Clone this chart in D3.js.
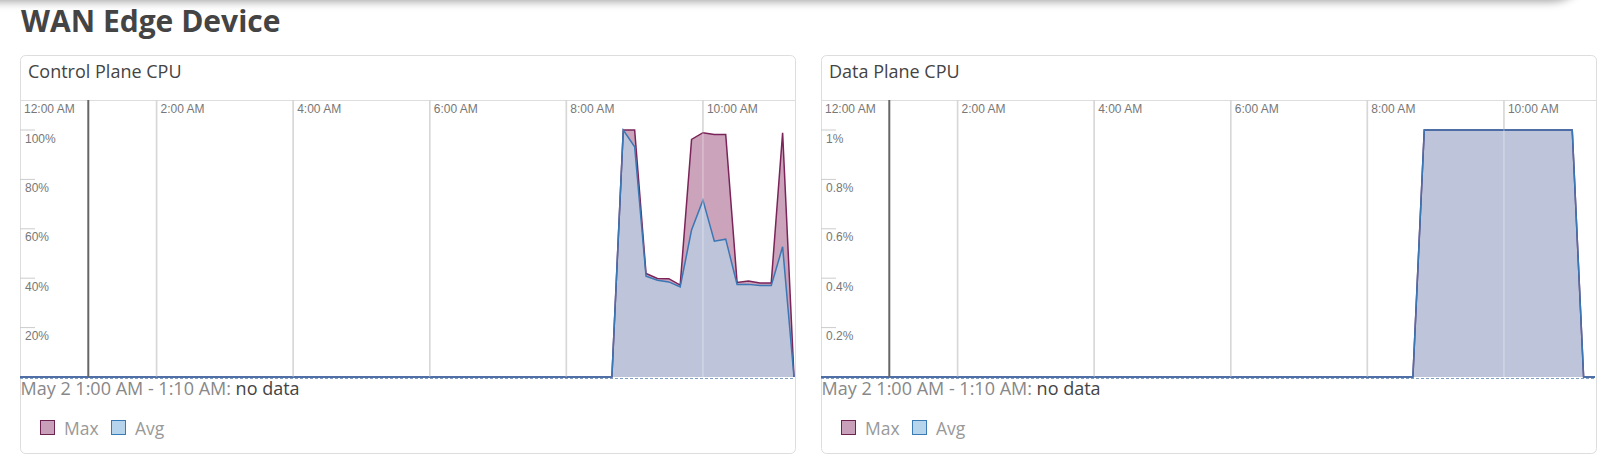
<!DOCTYPE html>
<html>
<head>
<meta charset="utf-8">
<script src="https://cdn.jsdelivr.net/npm/d3@7"></script>
<style>
  body { margin: 0; background: #fff; overflow: hidden; }
  #topbar { position: absolute; left: -20px; top: -40px; width: 1610px; height: 40px;
            background: #fff; box-shadow: 0 2px 9px rgba(0,0,0,0.35); border-radius: 0 0 40px 0; }
  #page { position: absolute; left: 0; top: 0; }
</style>
</head>
<body>
<div id="topbar"></div>
<div id="page"></div>
<script>
// Control Plane CPU (10 minute samples, %)
var cpTimes = ["00:00","08:40","08:50","09:00","09:10","09:20","09:30","09:40","09:50","10:00",
               "10:10","10:20","10:30","10:40","10:50","11:00","11:10","11:20"];
var cpMax = [0, 0, 100, 100, 41.9, 39.9, 39.8, 37.2, 96.2, 98.9, 98.2, 98.2, 38.3, 38.9, 38.1, 38.1, 98.9, 0];
var cpAvg = [0, 0, 100, 93.2, 40.8, 39.2, 38.5, 36.5, 59.5, 71.6, 55.0, 55.8, 37.5, 37.5, 37.0, 37.0, 52.7, 0];
var cpTicks = [20, 40, 60, 80, 100];
var cpTickLabels = ["20%", "40%", "60%", "80%", "100%"];

// Data Plane CPU (%)
var dpTimes = ["00:00","08:40","08:50","11:00","11:10","11:20"];
var dpMax = [0, 0, 1, 1, 0, 0];
var dpAvg = [0, 0, 1, 1, 0, 0];
var dpTicks = [0.2, 0.4, 0.6, 0.8, 1];
var dpTickLabels = ["0.2%", "0.4%", "0.6%", "0.8%", "1%"];

var timeStart = "00:00", timeEnd = "11:20";
var noDataTime = "01:00";
var noDataLabel = "May 2 1:00 AM - 1:10 AM:";
var legendItems = ["Max", "Avg"];

var svgWidth = 1607, svgHeight = 469;
var sansFont = "'Open Sans', sans-serif";
var tickFont = "'Liberation Sans', Arial, sans-serif";

var parseT = d3.timeParse("%Y-%m-%d %H:%M");
function toDate(t) { return parseT("2024-05-02 " + t); }

var svg = d3.select("#page").append("svg")
  .attr("width", svgWidth)
  .attr("height", svgHeight);

svg.append("text")
  .attr("x", 21)
  .attr("y", 32)
  .style("font-family", sansFont)
  .style("font-weight", "700")
  .style("font-size", "30px")
  .style("fill", "#444")
  .text("WAN Edge Device");

var panels = [
  { title: "Control Plane CPU", times: cpTimes, max: cpMax, avg: cpAvg, ticks: cpTicks, labels: cpTickLabels, top: 100, left: 20 },
  { title: "Data Plane CPU", times: dpTimes, max: dpMax, avg: dpAvg, ticks: dpTicks, labels: dpTickLabels, top: 1, left: 821 }
];

var plotW = 774, plotTop = 100, plotBottom = 377;

panels.forEach(function (p) {
  var g = svg.append("g");

  // panel frame
  g.append("rect")
    .attr("x", p.left + 0.5)
    .attr("y", 55.5)
    .attr("width", plotW + 1)
    .attr("height", 398)
    .attr("rx", 5)
    .attr("fill", "#fff")
    .attr("stroke", "#ddd");

  g.append("text")
    .attr("x", p.left + 8)
    .attr("y", 78)
    .style("font-family", sansFont)
    .style("font-size", "18px")
    .style("fill", "#444")
    .text(p.title);

  var x = d3.scaleTime()
    .domain([toDate(timeStart), toDate(timeEnd)])
    .range([p.left, p.left + plotW]);

  var y = d3.scaleLinear()
    .domain([0, p.top])
    .range([plotBottom, 130]);

  var data = p.times.map(function (t, i) {
    return { date: toDate(t), max: p.max[i], avg: p.avg[i] };
  });

  // top border of plot
  g.append("line")
    .attr("x1", p.left).attr("x2", p.left + plotW + 1)
    .attr("y1", plotTop + 0.5).attr("y2", plotTop + 0.5)
    .attr("stroke", "#ddd");

  var hourTicks = x.ticks(d3.timeHour.every(2));

  // grid under the areas
  g.selectAll(".grid")
    .data(hourTicks.slice(1))
    .enter()
    .append("line")
    .attr("x1", d => x(d)).attr("x2", d => x(d))
    .attr("y1", plotTop).attr("y2", plotBottom)
    .attr("stroke", "#c6c6c6")
    .attr("stroke-width", 1.5);

  var areaMax = d3.area()
    .x(d => x(d.date)).y0(plotBottom).y1(d => y(d.max));
  var areaAvg = d3.area()
    .x(d => x(d.date)).y0(plotBottom).y1(d => y(d.avg));
  var lineMax = d3.line().x(d => x(d.date)).y(d => y(d.max));
  var lineAvg = d3.line().x(d => x(d.date)).y(d => y(d.avg));

  g.append("path").datum(data).attr("d", areaMax).attr("fill", "#cba3bb");
  g.append("path").datum(data).attr("d", areaAvg).attr("fill", "#bec5da");
  g.append("path").datum(data).attr("d", lineMax)
    .attr("fill", "none").attr("stroke", "#7a2459").attr("stroke-width", 1.5);
  g.append("path").datum(data).attr("d", lineAvg)
    .attr("fill", "none").attr("stroke", "#3a77b4").attr("stroke-width", 1.5);

  // grid highlight on top of the areas
  g.selectAll(".gridTop")
    .data(hourTicks.slice(1))
    .enter()
    .append("line")
    .attr("x1", d => x(d)).attr("x2", d => x(d))
    .attr("y1", plotTop).attr("y2", plotBottom)
    .attr("stroke", "rgba(255,255,255,0.3)")
    .attr("stroke-width", 1.5);

  // no data marker
  g.append("line")
    .attr("x1", x(toDate(noDataTime))).attr("x2", x(toDate(noDataTime)))
    .attr("y1", plotTop).attr("y2", plotBottom)
    .attr("stroke", "#666")
    .attr("stroke-width", 2);

  // dashed baseline
  g.append("line")
    .attr("x1", p.left).attr("x2", p.left + plotW)
    .attr("y1", plotBottom + 1.5).attr("y2", plotBottom + 1.5)
    .attr("stroke", "#7f9fc4")
    .attr("stroke-dasharray", "3,2");

  // time labels
  var fmt = d3.timeFormat("%-I:%M %p");
  g.selectAll(".xlab")
    .data(hourTicks)
    .enter()
    .append("text")
    .attr("x", d => x(d) + 4)
    .attr("y", 113)
    .style("font-family", tickFont)
    .style("font-size", "12px")
    .style("fill", "#777")
    .text(d => fmt(d));

  // y ticks
  p.ticks.forEach(function (v, i) {
    g.append("line")
      .attr("x1", p.left).attr("x2", p.left + 15)
      .attr("y1", y(v)).attr("y2", y(v))
      .attr("stroke", "#ccc");
    g.append("text")
      .attr("x", p.left + 5)
      .attr("y", y(v) + 12.5)
      .style("font-family", tickFont)
      .style("font-size", "12px")
      .style("fill", "#777")
      .text(p.labels[i]);
  });

  // no data text
  var nd = g.append("text")
    .attr("x", p.left + 0.5)
    .attr("y", 394.5)
    .style("font-family", sansFont)
    .style("font-size", "18px");
  nd.append("tspan").style("fill", "#888").text(noDataLabel + " ");
  nd.append("tspan").style("fill", "#444").text("no data");

  // legend
  var legFill = ["#c9a0b9", "#b6d4ec"];
  var legStroke = ["#6e2350", "#3b7bb5"];
  var legX = [p.left + 20.5, p.left + 91.5];
  legendItems.forEach(function (name, i) {
    g.append("rect")
      .attr("x", legX[i]).attr("y", 420.5)
      .attr("width", 14).attr("height", 14)
      .attr("fill", legFill[i])
      .attr("stroke", legStroke[i]);
    g.append("text")
      .attr("x", legX[i] + 23.5)
      .attr("y", 434.5)
      .style("font-family", sansFont)
      .style("font-size", "17.5px")
      .style("fill", "#999")
      .text(name);
  });
});
</script>
</body>
</html>
